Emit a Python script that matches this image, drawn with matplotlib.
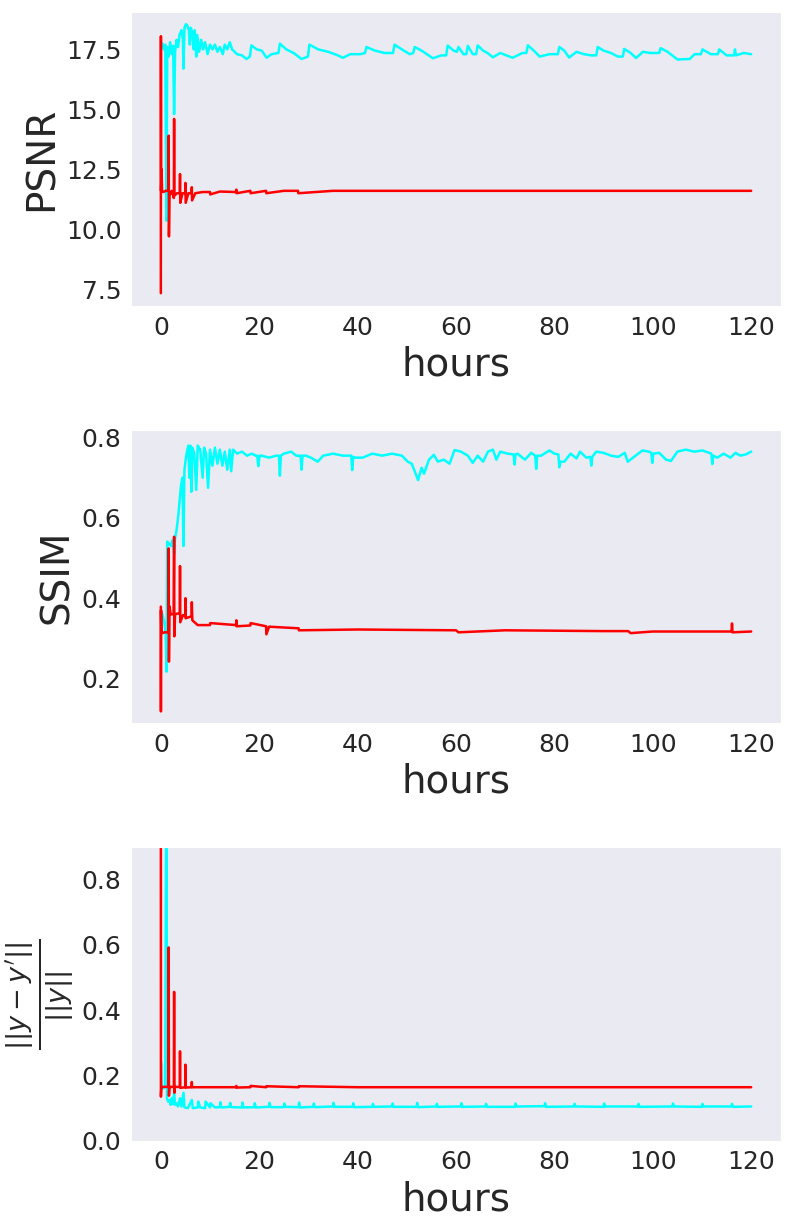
import matplotlib
matplotlib.use("Agg")
import matplotlib.pyplot as plt
import seaborn as sns

# ---- PSNR ----
psnr_cyan_t = [0.1, 0.3, 0.6, 0.9, 1.15, 1.3, 1.6, 1.9, 2.2, 2.5, 2.7, 2.9, 3.2, 3.5, 3.8,
               4.2, 4.5, 4.6, 4.8, 5.1, 5.4, 5.7, 5.9, 6.1, 6.4, 6.7, 6.9, 7.2, 7.4, 7.8,
               8.2, 8.6, 9.0, 9.5, 10.0, 10.5, 11.0, 11.5, 12.0, 12.6, 13.0, 13.5, 14.0, 14.5,
               15.5, 16.5, 17.4, 18.1, 18.4, 19.5, 20.5, 21.5, 22.5, 23.9, 24.2, 25.5, 27.0,
               28.6, 29.9, 30.2, 32.0, 34.0, 36.0, 37.0, 38.5, 40.5, 41.5, 41.8, 43.5, 45.5,
               47.2, 47.5, 49.0, 50.6, 51.3, 51.6, 53.0, 55.3, 57.0, 58.0, 58.3, 59.5, 60.2,
               60.5, 61.5, 62.1, 62.4, 63.4, 64.1, 64.4, 65.5, 66.4, 67.5, 69.0, 71.5, 73.5,
               74.3, 74.6, 75.8, 77.0, 79.0, 80.7, 81.0, 82.0, 83.0, 84.5, 86.0, 87.5, 88.5,
               88.8, 90.0, 91.5, 92.9, 93.9, 94.2, 95.5, 96.6, 98.0, 99.5, 101.3, 101.6, 103.0,
               105.0, 107.5, 108.5, 109.8, 110.1, 111.8, 113.2, 113.5, 115.0, 116.5, 116.7,
               116.9, 118.5, 120.0]
psnr_cyan = [17.6, 17.75, 17.5, 17.7, 10.35, 17.6, 17.2, 17.8, 17.3, 17.65, 14.8, 17.4, 17.9, 17.6, 18.1,
             18.3, 17.9, 16.7, 18.4, 18.55, 18.5, 18.3, 17.7, 18.4, 18.2, 17.5, 18.3, 17.2, 18.1, 17.4,
             17.9, 17.5, 17.8, 17.3, 17.7, 17.5, 17.7, 17.4, 17.6, 17.3, 17.7, 17.5, 17.8, 17.5,
             17.3, 17.25, 17.1, 17.2, 17.67, 17.5, 17.45, 17.15, 17.3, 17.35, 17.74, 17.5, 17.35,
             17.1, 17.2, 17.7, 17.5, 17.4, 17.25, 17.15, 17.3, 17.3, 17.35, 17.6, 17.45, 17.35,
             17.35, 17.7, 17.5, 17.3, 17.35, 17.6, 17.45, 17.13, 17.25, 17.25, 17.66, 17.45, 17.4,
             17.6, 17.3, 17.3, 17.65, 17.3, 17.3, 17.67, 17.45, 17.35, 17.17, 17.35, 17.15, 17.35,
             17.35, 17.67, 17.45, 17.2, 17.3, 17.3, 17.6, 17.45, 17.16, 17.4, 17.3, 17.25, 17.25,
             17.6, 17.45, 17.35, 17.2, 17.2, 17.52, 17.35, 17.14, 17.4, 17.35, 17.35, 17.55, 17.4,
             17.08, 17.1, 17.3, 17.3, 17.5, 17.3, 17.3, 17.5, 17.25, 17.25, 17.5,
             17.25, 17.35, 17.3]

psnr_red_t = [0.0, 0.02, 0.05, 0.15, 0.25, 0.5, 1.0, 1.55, 1.6, 1.65, 1.75, 2.2, 2.65, 2.7, 2.75,
              3.3, 3.85, 3.9, 3.95, 4.4, 4.95, 5.0, 5.05, 5.6, 6.25, 6.3, 6.35, 7.0, 8.5, 10.0,
              10.05, 12.0, 15.3, 15.35, 15.4, 18.2, 18.25, 21.4, 21.45, 25.0, 27.9, 27.95, 35.0,
              50.0, 70.0, 90.0, 105.0, 120.0]
psnr_red = [7.33, 18.05, 11.6, 12.5, 11.6, 11.55, 11.6, 11.6, 13.9, 9.7, 11.4, 11.6, 11.3, 14.6, 11.4,
            11.5, 11.5, 12.3, 11.1, 11.5, 11.5, 11.93, 11.1, 11.5, 11.5, 11.75, 11.2, 11.5, 11.55, 11.55,
            11.45, 11.57, 11.55, 11.65, 11.5, 11.6, 11.5, 11.6, 11.5, 11.6, 11.6, 11.5, 11.6,
            11.6, 11.6, 11.6, 11.6, 11.6]

# ---- SSIM ----
ssim_cyan_t = [0.0, 0.3, 0.7, 1.0, 1.15, 1.3, 1.7, 2.1, 2.4, 2.7, 2.9, 3.2, 3.5, 3.8, 4.1, 4.4, 4.6,
               4.8, 5.1, 5.4, 5.6, 5.8, 6.0, 6.2, 6.4, 6.8, 7.2, 7.5, 8.0, 8.5, 8.8, 9.2, 9.6, 10.0,
               10.5, 11.0, 11.5, 12.0, 12.5, 13.0, 13.5, 14.0, 14.3, 14.7, 15.5, 16.5, 17.5, 18.5,
               19.3, 19.6, 19.8, 20.1, 20.5, 22.0, 23.5, 24.0, 24.2, 24.4, 25.0, 26.5, 27.5, 28.4,
               28.6, 28.8, 29.5, 30.5, 31.9, 33.0, 35.0, 37.0, 38.7, 38.9, 39.1, 39.5, 41.0, 43.0,
               45.0, 47.0, 49.0, 50.2, 51.0, 52.3, 53.0, 53.5, 54.5, 55.5, 56.3, 57.5, 58.7, 59.7,
               61.0, 62.4, 63.4, 64.4, 65.5, 66.5, 67.5, 68.2, 69.0, 70.5, 71.7, 71.9, 72.1, 72.5,
               74.0, 75.3, 76.1, 76.3, 76.5, 77.3, 79.0, 80.0, 80.8, 81.0, 81.2, 82.0, 83.3, 84.5,
               85.2, 86.5, 87.3, 87.5, 87.7, 88.5, 90.0, 91.5, 93.0, 94.3, 94.9, 96.2, 97.9, 99.2,
               99.7, 99.9, 100.1, 101.3, 102.7, 103.7, 105.0, 106.7, 108.4, 110.1, 111.9, 112.1,
               112.3, 113.1, 114.4, 115.8, 116.8, 117.8, 118.9, 120.0]
ssim_cyan = [0.37, 0.36, 0.34, 0.31, 0.217, 0.541, 0.535, 0.53, 0.545, 0.51, 0.55, 0.57, 0.6, 0.64, 0.68, 0.7, 0.53,
             0.72, 0.75, 0.77, 0.78, 0.7, 0.78, 0.665, 0.775, 0.76, 0.67, 0.78, 0.77, 0.7, 0.775, 0.76, 0.675, 0.77,
             0.73, 0.775, 0.735, 0.77, 0.73, 0.765, 0.72, 0.77, 0.716, 0.77, 0.76, 0.765, 0.755, 0.76,
             0.755, 0.755, 0.729, 0.755, 0.755, 0.75, 0.755, 0.755, 0.705, 0.755, 0.76, 0.765, 0.755, 0.755,
             0.72, 0.755, 0.755, 0.75, 0.74, 0.755, 0.76, 0.755, 0.755, 0.719, 0.752, 0.75, 0.75, 0.76,
             0.755, 0.76, 0.755, 0.74, 0.735, 0.694, 0.725, 0.71, 0.745, 0.757, 0.74, 0.745, 0.735, 0.769,
             0.765, 0.755, 0.737, 0.755, 0.74, 0.765, 0.77, 0.745, 0.765, 0.76, 0.758, 0.733, 0.758, 0.76,
             0.745, 0.762, 0.755, 0.722, 0.755, 0.755, 0.768, 0.76, 0.758, 0.726, 0.74, 0.74, 0.76, 0.748,
             0.765, 0.75, 0.752, 0.73, 0.752, 0.765, 0.762, 0.755, 0.752, 0.762, 0.74, 0.752, 0.768, 0.765,
             0.762, 0.737, 0.76, 0.762, 0.745, 0.742, 0.765, 0.77, 0.765, 0.768, 0.76, 0.734,
             0.755, 0.75, 0.76, 0.75, 0.762, 0.755, 0.758, 0.765]

ssim_red_t = [0.0, 0.02, 0.05, 0.1, 0.3, 0.8, 1.55, 1.6, 1.65, 1.75, 2.0, 2.6, 2.7, 2.75, 2.9, 3.5,
              3.85, 3.9, 3.95, 4.5, 4.95, 5.0, 5.05, 6.25, 6.3, 6.4, 7.5, 10.0, 10.05, 15.3, 15.35,
              15.4, 18.2, 18.25, 21.4, 21.45, 22.0, 28.0, 28.05, 40.0, 50.0, 60.0, 60.5, 70.0, 80.0,
              90.0, 95.0, 95.5, 100.0, 110.0, 116.0, 116.1, 116.2, 120.0]
ssim_red = [0.379, 0.118, 0.37, 0.32, 0.313, 0.315, 0.315, 0.524, 0.242, 0.38, 0.36, 0.36, 0.553, 0.305, 0.36, 0.362,
            0.36, 0.48, 0.34, 0.358, 0.355, 0.40, 0.35, 0.355, 0.39, 0.345, 0.333, 0.333, 0.338, 0.333, 0.345,
            0.33, 0.332, 0.338, 0.33, 0.31, 0.329, 0.325, 0.32, 0.322, 0.321, 0.32, 0.315, 0.32, 0.319,
            0.318, 0.318, 0.313, 0.317, 0.317, 0.317, 0.337, 0.315, 0.317]

# ---- relative error ----
err_cyan_t = [0.1, 0.2, 0.4, 0.9, 1.15, 1.25, 1.5, 1.8, 2.0, 2.2, 2.5, 2.7, 2.9, 3.2, 3.5, 3.9, 4.2,
              4.6, 4.8, 5.5, 6.3, 6.5, 7.5, 7.6, 8.0, 9.0, 9.1, 10.0, 10.1, 11.0, 12.0, 12.1, 12.3,
              14.0, 14.1, 14.3, 16.5, 16.6, 16.8, 19.0, 19.1, 19.3, 22.0, 22.1, 22.3, 25.0, 25.1,
              25.3, 28.0, 28.1, 28.3, 31.0, 31.1, 31.3, 35.0, 35.1, 35.3, 39.0, 39.1, 39.3, 43.0,
              43.1, 43.3, 47.0, 47.1, 47.3, 52.0, 52.1, 52.3, 56.0, 56.1, 56.3, 61.0, 61.1, 61.3,
              66.0, 66.1, 66.3, 72.0, 72.1, 72.3, 78.0, 78.1, 78.3, 84.0, 84.1, 84.3, 90.0, 90.1,
              90.3, 97.0, 97.1, 97.3, 104.0, 104.1, 104.3, 110.0, 110.1, 110.3, 116.0, 116.1,
              116.3, 120.0]
err_cyan = [0.24, 0.17, 0.16, 0.165, 1.3, 0.13, 0.12, 0.125, 0.11, 0.13, 0.112, 0.145, 0.11, 0.115, 0.105, 0.13, 0.105,
            0.147, 0.102, 0.1, 0.125, 0.1, 0.102, 0.12, 0.102, 0.1, 0.12, 0.102, 0.115, 0.102, 0.103, 0.118, 0.102,
            0.104, 0.116, 0.103, 0.102, 0.117, 0.102, 0.103, 0.115, 0.102, 0.104, 0.116, 0.103, 0.103, 0.114,
            0.104, 0.103, 0.117, 0.102, 0.104, 0.114, 0.103, 0.105, 0.116, 0.104, 0.104, 0.115, 0.103, 0.104,
            0.113, 0.104, 0.105, 0.114, 0.104, 0.104, 0.116, 0.103, 0.105, 0.113, 0.104, 0.105, 0.115, 0.104,
            0.105, 0.113, 0.104, 0.104, 0.114, 0.105, 0.106, 0.115, 0.104, 0.105, 0.113, 0.105, 0.104, 0.114,
            0.105, 0.105, 0.113, 0.104, 0.105, 0.114, 0.105, 0.104, 0.113, 0.105, 0.105, 0.113,
            0.104, 0.105]

err_red_t = [0.0, 0.02, 0.1, 1.55, 1.6, 1.65, 1.75, 2.65, 2.7, 2.72, 2.75, 2.8, 3.85, 3.9, 3.95,
             4.95, 5.0, 5.05, 6.25, 6.3, 6.35, 10.0, 15.3, 15.35, 15.4, 18.2, 18.25, 21.4, 21.45,
             28.0, 28.05, 40.0, 60.0, 80.0, 100.0, 120.0]
err_red = [1.2, 0.135, 0.165, 0.165, 0.592, 0.138, 0.165, 0.165, 0.456, 0.356, 0.147, 0.165, 0.165, 0.274, 0.162,
           0.164, 0.233, 0.163, 0.164, 0.18, 0.164, 0.164, 0.164, 0.168, 0.163, 0.164, 0.168, 0.164, 0.167,
           0.164, 0.167, 0.164, 0.164, 0.164, 0.164, 0.164]

sns.set_style("dark")
plt.rcParams['font.family'] = ['DejaVu Sans']

fig, axes = plt.subplots(3, 1, figsize=(7.91, 12.24), dpi=100)
fig.subplots_adjust(left=0.166, right=0.987, top=0.990, bottom=0.068, hspace=0.42)

panels = [
    (psnr_cyan_t, psnr_cyan, psnr_red_t, psnr_red, "PSNR", (6.79, 19.05), [7.5, 10.0, 12.5, 15.0, 17.5]),
    (ssim_cyan_t, ssim_cyan, ssim_red_t, ssim_red, "SSIM", (0.088, 0.82), [0.2, 0.4, 0.6, 0.8]),
    (err_cyan_t, err_cyan, err_red_t, err_red, r"$\frac{||y-y'||}{||y||}$", (0.0, 0.9),
     [0.0, 0.2, 0.4, 0.6, 0.8]),
]

for ax, (ct, cv, rt, rv, label, ylim, yticks) in zip(axes, panels):
    ax.plot(ct, cv, color='cyan', lw=1.8)
    ax.plot(rt, rv, color='red', lw=1.8)
    ax.set_xlim(-6, 126)
    ax.set_ylim(*ylim)
    ax.set_xticks([0, 20, 40, 60, 80, 100, 120])
    ax.set_yticks(yticks)
    ax.tick_params(labelsize=18)
    ax.set_xlabel("hours", fontsize=28)
    ax.set_ylabel(label, fontsize=28)

plt.savefig("out.png", dpi=100)
